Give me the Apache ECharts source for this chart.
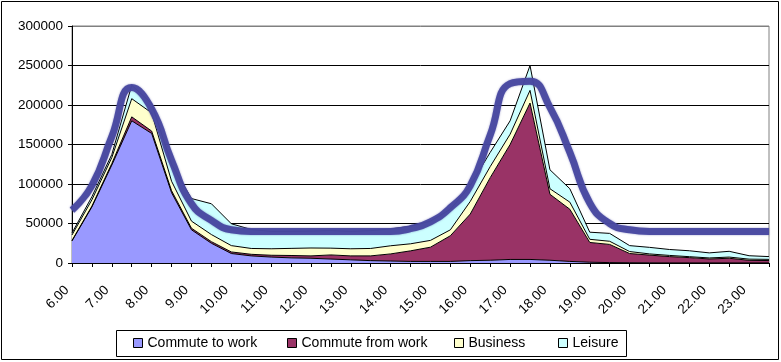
<!DOCTYPE html>
<html>
<head>
<meta charset="utf-8">
<script src="https://cdn.jsdelivr.net/npm/echarts@6/dist/echarts.min.js"></script>
<style>
html,body{margin:0;padding:0;background:#fff;}
#chart{width:781px;height:362px;}
</style>
</head>
<body>
<div id="chart"></div>
<script>
// Half-hour categories from 6.00 to 23.30
const hours = ['6.00','6.30','7.00','7.30','8.00','8.30','9.00','9.30','10.00','10.30','11.00','11.30','12.00','12.30','13.00','13.30','14.00','14.30','15.00','15.30','16.00','16.30','17.00','17.30','18.00','18.30','19.00','19.30','20.00','20.30','21.00','21.30','22.00','22.30','23.00','23.30'];

const commuteToWork = [28000,71000,124000,180000,164000,89000,42000,25000,12000,9000,7500,6500,6000,5000,4000,3000,2500,2000,2000,2000,3000,3500,4500,4500,3500,2000,1000,500,300,200,100,100,100,100,100,100];
const commuteFromWork = [500,1000,2000,5000,3000,2500,2000,2000,2000,2000,2300,3000,3000,5200,5000,6000,9000,13400,18000,32500,59000,104500,145500,198000,83500,66000,25000,23000,11700,9800,8000,6700,5000,5900,3300,3000];
const business = [7000,8000,7500,23000,23000,12000,9000,9000,8000,7400,8200,9000,10000,8600,9000,9400,10300,8900,8600,7500,16000,14000,13000,16000,7000,9000,4000,4000,2500,1500,1500,1200,1300,1500,1500,1500];
const leisure = [2500,4000,4000,17000,12000,21500,28600,39000,27700,24000,22000,21600,21400,22200,22000,22600,21300,22200,24400,26000,20000,18000,17000,31500,24000,17000,9000,10000,7500,8300,7500,7500,6400,7300,4300,3500];
const trend = [67000,98000,160000,222000,195000,130000,75000,54000,42000,40000,40000,40000,40000,40000,40000,40000,40000,43500,52000,70000,98000,162000,227000,230000,197000,140000,76000,50000,42000,40000,40000,40000,40000,40000,40000,40000];

const seriesNames = ['Commute to work','Commute from work','Business','Leisure'];
const seriesColors = ['#9999FF','#993366','#FFFFCC','#CCFFFF'];
const seriesData = [commuteToWork, commuteFromWork, business, leisure];

const FONT = 'Liberation Sans';
const chart = echarts.init(document.getElementById('chart'), null, {renderer:'canvas'});

const areaSeries = seriesNames.map((n,i)=>({
  name:n, type:'line', stack:'total', data:seriesData[i],
  symbol:'none', smooth:false,
  lineStyle:{color:'#000', width:1},
  itemStyle:{color:seriesColors[i], borderColor:'#000', borderWidth:1},
  areaStyle:{color:seriesColors[i], opacity:1},
  z:2
}));

const legendXs = [133, 287, 454, 558];
const legends = seriesNames.map((n,i)=>({
  data:[n], left:legendXs[i], top:336, padding:0,
  icon:'rect', itemWidth:9, itemHeight:9, itemGap:0,
  itemStyle:{borderColor:'#000', borderWidth:1},
  textStyle:{fontFamily:FONT, fontSize:14, color:'#000', padding:[0,0,0,0]},
  selectedMode:false
}));

chart.setOption({
  animation:false,
  backgroundColor:'#fff',
  grid:{left:72, right:12, top:26, bottom:99, show:true, borderColor:'#808080', borderWidth:1},
  legend:legends,
  xAxis:{
    type:'category', data:hours, boundaryGap:false,
    axisLine:{lineStyle:{color:'#000', width:1}},
    axisTick:{show:true, interval:0, length:4, inside:false, lineStyle:{color:'#000'}},
    axisLabel:{interval:1, rotate:45, margin:20, padding:[0,7,0,0], fontFamily:FONT, fontSize:13.5, color:'#000'},
    splitLine:{show:false}
  },
  yAxis:{
    type:'value', min:0, max:300000, interval:50000,
    axisLine:{show:true, lineStyle:{color:'#000', width:1}},
    axisTick:{show:true, length:4, lineStyle:{color:'#000'}},
    axisLabel:{margin:9, fontFamily:FONT, fontSize:13.5, color:'#000', formatter:v=>String(v)},
    splitLine:{show:true, lineStyle:{color:['#000','#000','#000','#000','#000','#000','#808080'], width:1}}
  },
  series: areaSeries.concat([{
    name:'Trend', type:'line', data:trend, symbol:'none', smooth:0.5,
    lineStyle:{color:'#4848A0', width:7, opacity:0.95, shadowColor:'rgba(72,72,160,0.6)', shadowBlur:2},
    z:5
  }]),
  graphic:[
    {type:'rect', shape:{x:116.5, y:330.5, width:510, height:26}, style:{fill:'none', stroke:'#000', lineWidth:1}, z:-1, silent:true},
    {type:'rect', shape:{x:1.5, y:1.5, width:777, height:358}, style:{fill:'none', stroke:'#000', lineWidth:1}, z:-1, silent:true}
  ]
});
</script>
</body>
</html>
